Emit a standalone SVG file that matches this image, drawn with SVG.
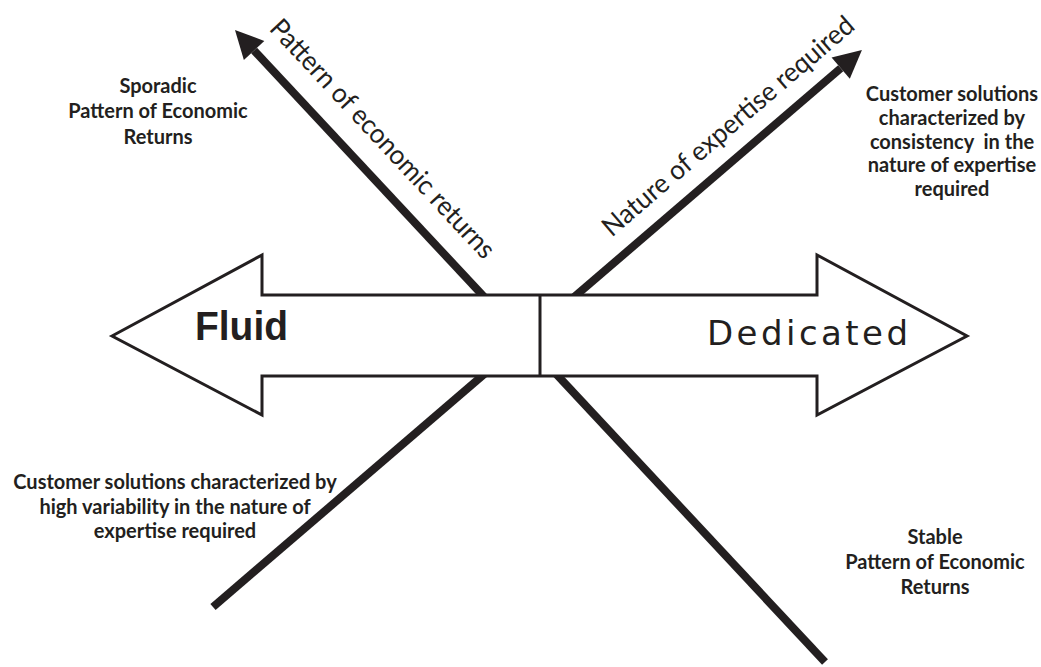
<svg xmlns="http://www.w3.org/2000/svg" width="1041" height="667" viewBox="0 0 1041 667">
<style>
.ax{stroke:#231f20;stroke-width:8;fill:none;stroke-linecap:butt}
.lbl{font-family:Lato,"Liberation Sans",sans-serif;font-weight:bold;font-size:20px;fill:#231f20;text-anchor:middle}
.axl{font-family:Lato,"Liberation Sans",sans-serif;font-size:27px;fill:#231f20;text-anchor:middle}
.big{stroke:#231f20;stroke-width:3;fill:#fff;stroke-linejoin:miter}
</style>
<defs>
<marker id="ah" viewBox="0 -14 28 28" refX="0" refY="0" markerWidth="28" markerHeight="28" markerUnits="userSpaceOnUse" orient="auto" overflow="visible">
<path d="M0,-14 L28,0 L0,14 z" fill="#231f20"/>
</marker>
</defs>
<g id="connectors">
<path class="ax" d="M825,662 L254.1,50.5" marker-end="url(#ah)"/>
<path class="ax" d="M213,607 L840.7,68.2" marker-end="url(#ah)"/>
</g>
<g id="axis-labels">
<text class="axl" transform="translate(376,145) rotate(47)" textLength="316" lengthAdjust="spacingAndGlyphs">Pattern of economic returns</text>
<text class="axl" transform="translate(734,133) rotate(-40.6)" textLength="322" lengthAdjust="spacingAndGlyphs">Nature of expertise required</text>
</g>
<g id="main-arrow">
<polygon class="big" points="112,336 262,255 262,295 817,295 817,255 967,336 817,415 817,376 262,376 262,415"/>
<line x1="540" y1="295" x2="540" y2="376" stroke="#231f20" stroke-width="3"/>
<text x="195" y="340" font-family="'Liberation Sans',Arial,sans-serif" font-weight="bold" font-size="40" fill="#231f20" textLength="93" lengthAdjust="spacingAndGlyphs">Fluid</text>
<text x="707" y="345" font-family="'DejaVu Sans',sans-serif" font-size="34" fill="#231f20" textLength="201" lengthAdjust="spacing">Dedicated</text>
</g>
<g id="label-sporadic">
<text class="lbl" x="158" y="93">Sporadic</text>
<text class="lbl" x="158" y="118">Pattern of Economic</text>
<text class="lbl" x="158" y="144">Returns</text>
</g>
<g id="label-consistency">
<text class="lbl" x="952" y="101">Customer solutions</text>
<text class="lbl" x="952" y="125">characterized by</text>
<text class="lbl" x="952" y="149" xml:space="preserve">consistency  in the</text>
<text class="lbl" x="952" y="172">nature of expertise</text>
<text class="lbl" x="952" y="196">required</text>
</g>
<g id="label-variability">
<text class="lbl" x="175" y="489">Customer solutions characterized by</text>
<text class="lbl" x="175" y="514">high variability in the nature of</text>
<text class="lbl" x="175" y="538">expertise required</text>
</g>
<g id="label-stable">
<text class="lbl" x="935" y="544">Stable</text>
<text class="lbl" x="935" y="569">Pattern of Economic</text>
<text class="lbl" x="935" y="594">Returns</text>
</g>
</svg>
